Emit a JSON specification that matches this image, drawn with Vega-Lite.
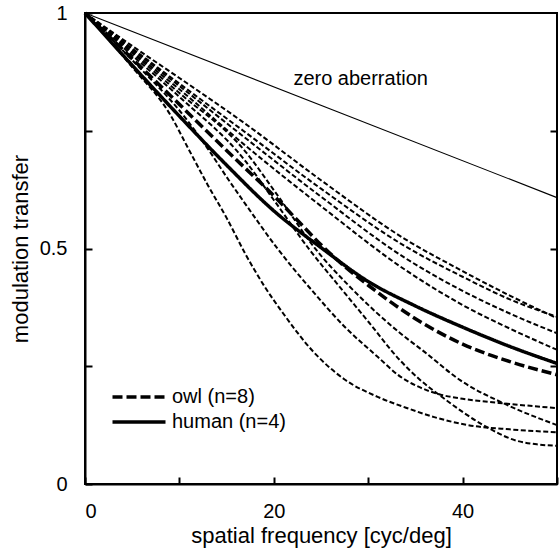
{
  "$schema": "https://vega.github.io/schema/vega-lite/v6.json",
  "width": 472,
  "height": 471,
  "autosize": {"type": "none"},
  "padding": {"left": 85, "top": 13, "right": 3, "bottom": 67},
  "config": {
    "font": "Liberation Sans",
    "view": {"stroke": "black", "strokeWidth": 2},
    "axis": {"labelColor": "black", "titleColor": "black", "tickColor": "black", "domainColor": "black", "grid": false, "titleFontWeight": "normal"}
  },
  "datasets": {
    "owl": [
      {"id":"A1","x":0,"y":1},{"id":"A1","x":5,"y":0.93},{"id":"A1","x":10,"y":0.862},{"id":"A1","x":16.9,"y":0.766},{"id":"A1","x":25,"y":0.645},{"id":"A1","x":33.9,"y":0.52},{"id":"A1","x":40,"y":0.452},{"id":"A1","x":45,"y":0.4},{"id":"A1","x":50,"y":0.352},
      {"id":"A2","x":0,"y":1},{"id":"A2","x":5,"y":0.925},{"id":"A2","x":10,"y":0.85},{"id":"A2","x":16.9,"y":0.748},{"id":"A2","x":25,"y":0.627},{"id":"A2","x":33.9,"y":0.505},{"id":"A2","x":40,"y":0.44},{"id":"A2","x":45,"y":0.392},{"id":"A2","x":50,"y":0.355},
      {"id":"B","x":0,"y":1},{"id":"B","x":5,"y":0.922},{"id":"B","x":10,"y":0.845},{"id":"B","x":16.9,"y":0.736},{"id":"B","x":25,"y":0.61},{"id":"B","x":33.9,"y":0.48},{"id":"B","x":40,"y":0.41},{"id":"B","x":45,"y":0.362},{"id":"B","x":50,"y":0.32},
      {"id":"C","x":0,"y":1},{"id":"C","x":5,"y":0.918},{"id":"C","x":10,"y":0.838},{"id":"C","x":16.9,"y":0.72},{"id":"C","x":25,"y":0.59},{"id":"C","x":33.9,"y":0.455},{"id":"C","x":40,"y":0.38},{"id":"C","x":45,"y":0.33},{"id":"C","x":50,"y":0.285},
      {"id":"P","x":0,"y":1},{"id":"P","x":5,"y":0.915},{"id":"P","x":10,"y":0.83},{"id":"P","x":16.9,"y":0.708},{"id":"P","x":20.5,"y":0.61},{"id":"P","x":24.5,"y":0.497},{"id":"P","x":28,"y":0.42},{"id":"P","x":33.4,"y":0.32},{"id":"P","x":36,"y":0.28},{"id":"P","x":39.7,"y":0.221},{"id":"P","x":44.7,"y":0.168},{"id":"P","x":50,"y":0.125},
      {"id":"R","x":0,"y":1},{"id":"R","x":5,"y":0.91},{"id":"R","x":10,"y":0.822},{"id":"R","x":16.9,"y":0.688},{"id":"R","x":20,"y":0.603},{"id":"R","x":23.8,"y":0.497},{"id":"R","x":27,"y":0.418},{"id":"R","x":30,"y":0.345},{"id":"R","x":33.4,"y":0.262},{"id":"R","x":35.5,"y":0.221},{"id":"R","x":38,"y":0.182},{"id":"R","x":42.2,"y":0.125},{"id":"R","x":45.7,"y":0.092},{"id":"R","x":48,"y":0.084},{"id":"R","x":50,"y":0.081},
      {"id":"Q","x":0,"y":1},{"id":"Q","x":5,"y":0.9},{"id":"Q","x":10.8,"y":0.773},{"id":"Q","x":13,"y":0.712},{"id":"Q","x":15.2,"y":0.646},{"id":"Q","x":16.9,"y":0.597},{"id":"Q","x":20.5,"y":0.497},{"id":"Q","x":24,"y":0.412},{"id":"Q","x":27.5,"y":0.334},{"id":"Q","x":31,"y":0.27},{"id":"Q","x":33.4,"y":0.228},{"id":"Q","x":35.5,"y":0.205},{"id":"Q","x":37.6,"y":0.19},{"id":"Q","x":40,"y":0.181},{"id":"Q","x":45,"y":0.17},{"id":"Q","x":50,"y":0.161},
      {"id":"S","x":0,"y":1},{"id":"S","x":5,"y":0.885},{"id":"S","x":9,"y":0.785},{"id":"S","x":11,"y":0.71},{"id":"S","x":13,"y":0.635},{"id":"S","x":15,"y":0.565},{"id":"S","x":17,"y":0.488},{"id":"S","x":19,"y":0.42},{"id":"S","x":21,"y":0.362},{"id":"S","x":24,"y":0.285},{"id":"S","x":27.5,"y":0.222},{"id":"S","x":31,"y":0.185},{"id":"S","x":34,"y":0.162},{"id":"S","x":37,"y":0.142},{"id":"S","x":40.6,"y":0.125},{"id":"S","x":45,"y":0.116},{"id":"S","x":50,"y":0.11}
    ],
    "means": [
      {"group":"human (n=4)","x":0,"y":1},{"group":"human (n=4)","x":5,"y":0.889},{"group":"human (n=4)","x":10,"y":0.781},{"group":"human (n=4)","x":15,"y":0.677},{"group":"human (n=4)","x":20,"y":0.58},{"group":"human (n=4)","x":25,"y":0.502},{"group":"human (n=4)","x":30,"y":0.43},{"group":"human (n=4)","x":35,"y":0.378},{"group":"human (n=4)","x":40,"y":0.333},{"group":"human (n=4)","x":45,"y":0.292},{"group":"human (n=4)","x":50,"y":0.256},
      {"group":"owl (n=8)","x":0,"y":1},{"group":"owl (n=8)","x":5,"y":0.903},{"group":"owl (n=8)","x":10,"y":0.806},{"group":"owl (n=8)","x":15,"y":0.708},{"group":"owl (n=8)","x":20,"y":0.612},{"group":"owl (n=8)","x":22.5,"y":0.56},{"group":"owl (n=8)","x":25,"y":0.508},{"group":"owl (n=8)","x":27.5,"y":0.462},{"group":"owl (n=8)","x":30,"y":0.422},{"group":"owl (n=8)","x":35,"y":0.351},{"group":"owl (n=8)","x":40,"y":0.297},{"group":"owl (n=8)","x":45,"y":0.26},{"group":"owl (n=8)","x":50,"y":0.232}
    ],
    "zero": [
      {"x":0,"y":1},{"x":50,"y":0.608}
    ]
  },
  "resolve": {"axis": {"x": "independent", "y": "independent"}},
  "layer": [
    {
      "data": {"name": "owl"},
      "mark": {"type": "line", "color": "black", "strokeWidth": 2, "strokeDash": [5, 2.5], "interpolate": "monotone"},
      "encoding": {
        "x": {"field": "x", "type": "quantitative", "scale": {"domain": [0, 50], "nice": false},
          "axis": {"values": [0, 10, 20, 30, 40, 50], "labelExpr": "datum.value % 20 === 0 ? datum.value + '' : ''", "tickSize": -7, "tickWidth": 2, "domainWidth": 2, "labelFontSize": 20, "labelPadding": 24, "title": "spatial frequency [cyc/deg]", "titleFontSize": 22, "titlePadding": 4}},
        "y": {"field": "y", "type": "quantitative", "scale": {"domain": [0, 1], "nice": false},
          "axis": {"values": [0, 0.25, 0.5, 0.75, 1], "labelExpr": "datum.value === 0 ? '0' : datum.value === 0.5 ? '0.5' : datum.value === 1 ? '1' : ''", "tickSize": -7, "tickWidth": 2, "domainWidth": 2, "labelFontSize": 20, "labelPadding": 25, "title": "modulation transfer", "titleFontSize": 22, "titlePadding": 7}},
        "detail": {"field": "id"}
      }
    },
    {
      "data": {"name": "means"},
      "mark": {"type": "line", "color": "black", "strokeWidth": 3.5, "interpolate": "monotone"},
      "encoding": {
        "x": {"field": "x", "type": "quantitative", "axis": null},
        "y": {"field": "y", "type": "quantitative", "axis": null},
        "strokeDash": {"field": "group", "type": "nominal",
          "scale": {"domain": ["owl (n=8)", "human (n=4)"], "range": [[10, 4], [1, 0]]},
          "legend": {"title": null, "orient": "none", "legendX": 44, "legendY": 374, "padding": 0,
            "symbolType": "M-10,0H10", "symbolSize": 28.09, "symbolStrokeWidth": 3.5, "symbolStrokeColor": "black",
            "labelFontSize": 20, "labelOffset": 23, "rowPadding": 5, "labelColor": "black"}}
      }
    },
    {
      "data": {"name": "zero"},
      "mark": {"type": "line", "color": "black", "strokeWidth": 1.1},
      "encoding": {
        "x": {"field": "x", "type": "quantitative", "axis": null},
        "y": {"field": "y", "type": "quantitative",
          "axis": {"orient": "right", "values": [0.25, 0.5, 0.75], "labels": false, "domain": false, "tickSize": -7, "tickWidth": 2, "title": null}}
      }
    },
    {
      "data": {"values": [{"label": "zero aberration"}]},
      "mark": {"type": "text", "fontSize": 20, "color": "black", "align": "center", "baseline": "middle"},
      "encoding": {
        "x": {"datum": 29.2, "type": "quantitative", "axis": null},
        "y": {"datum": 0.86, "type": "quantitative", "axis": null},
        "text": {"field": "label"}
      }
    }
  ]
}
